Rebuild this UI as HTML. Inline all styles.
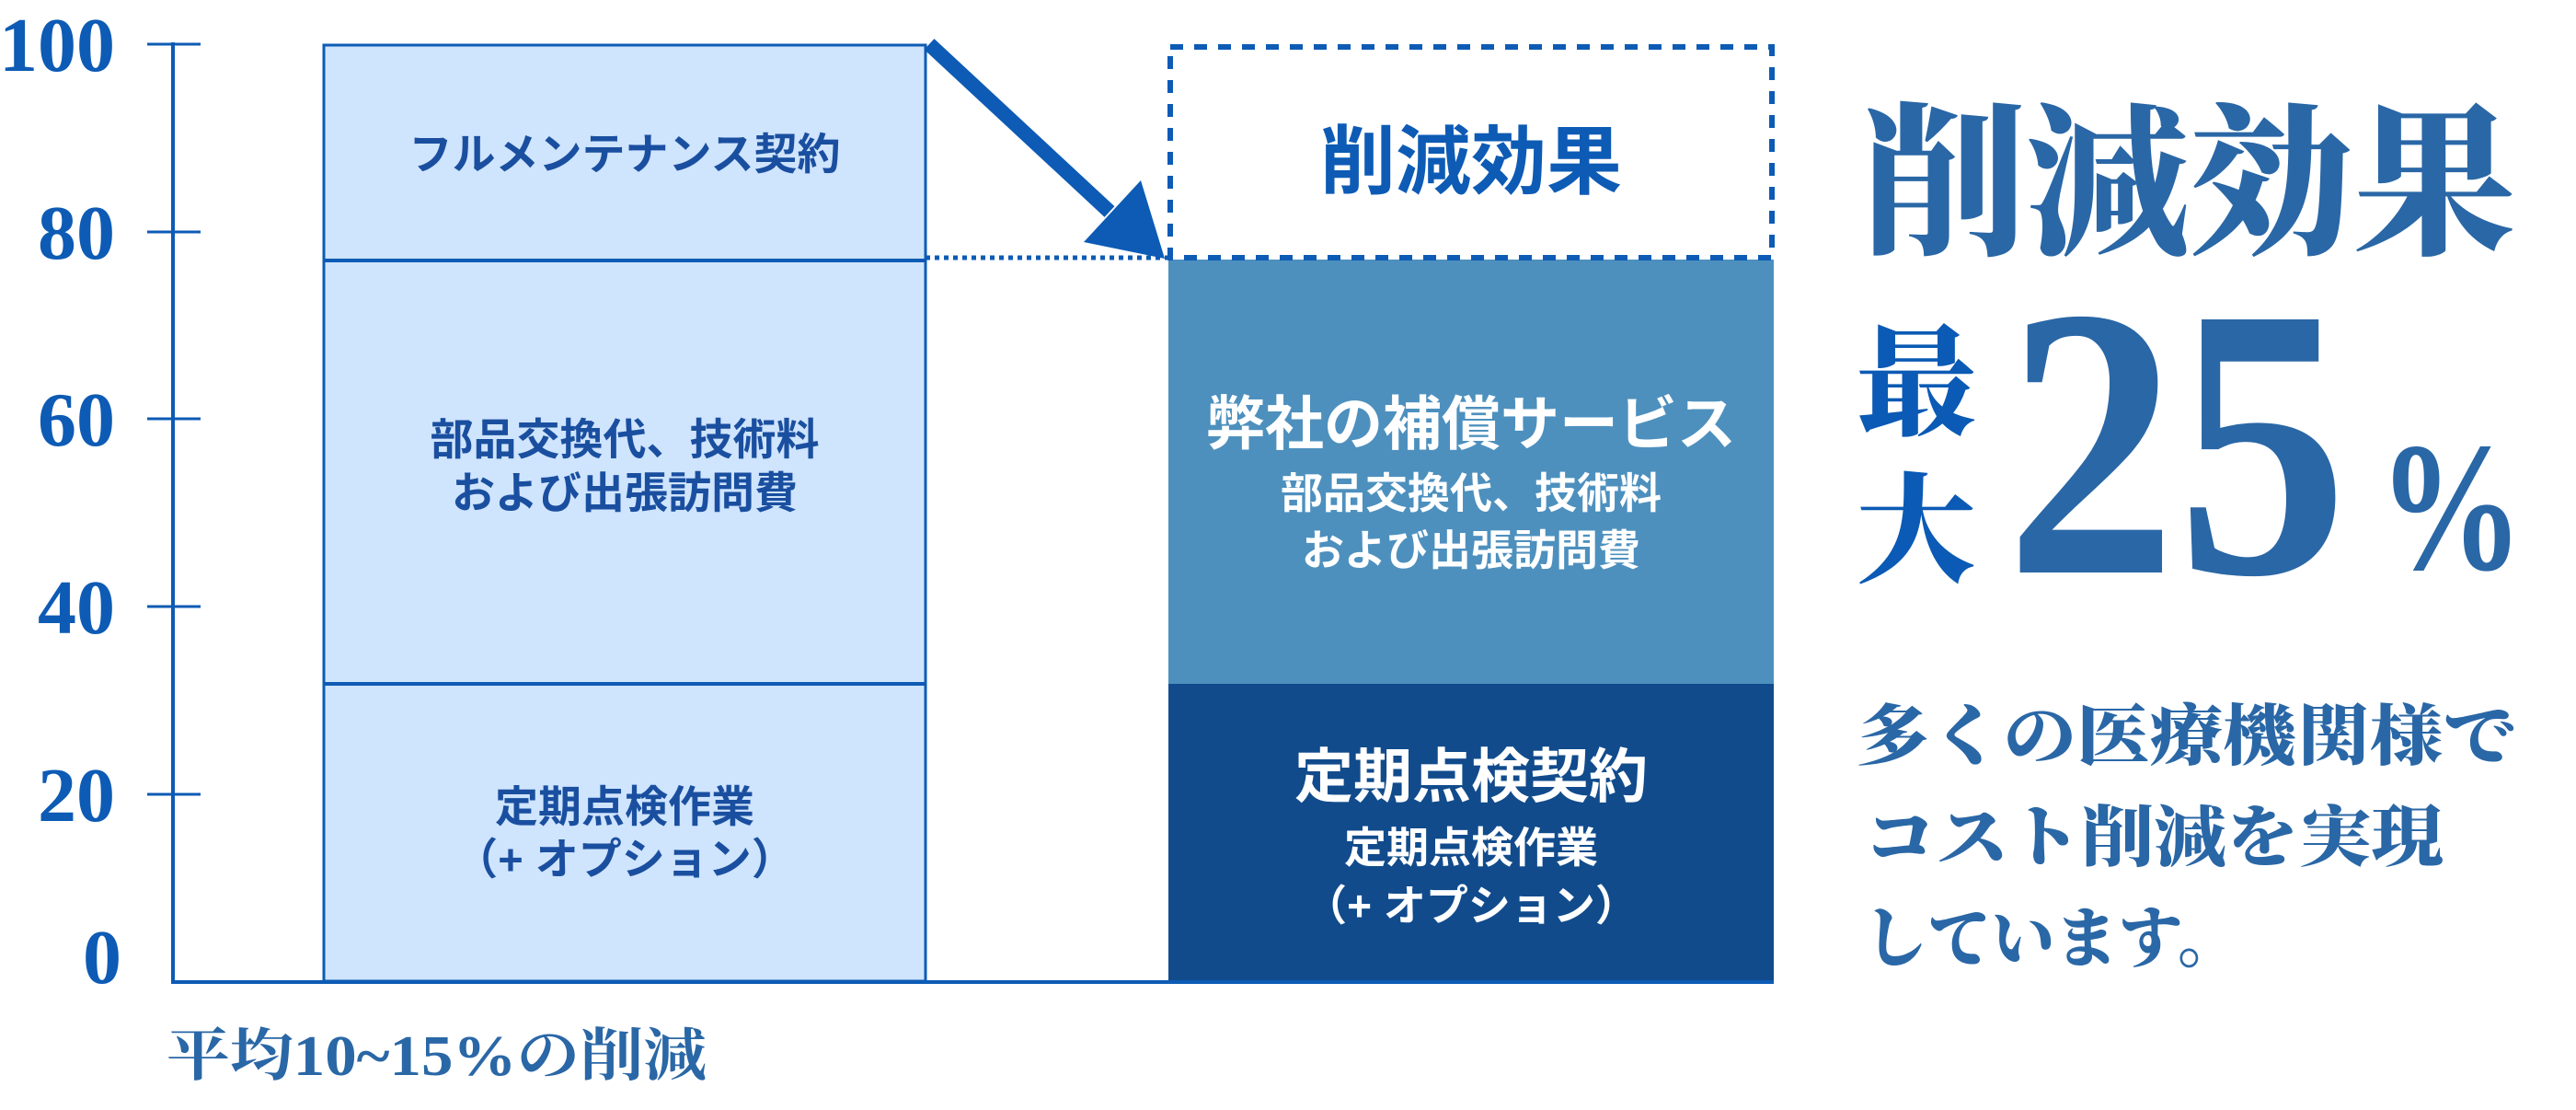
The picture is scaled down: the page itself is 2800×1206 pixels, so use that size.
<!DOCTYPE html>
<html><head><meta charset="utf-8"><style>
html,body{margin:0;padding:0;background:#fff;}
svg{display:block;}
.s{font-family:"Liberation Sans","Noto Sans CJK JP",sans-serif;font-weight:700;}
.n{font-family:"Liberation Serif","Noto Serif CJK SC",serif;font-weight:700;}
.c{font-family:"Liberation Serif","Noto Serif CJK SC",serif;font-weight:900;}
</style></head><body>
<svg width="2800" height="1206" viewBox="0 0 2800 1206" xmlns="http://www.w3.org/2000/svg">
<!-- left bar -->
<rect x="352" y="49" width="654" height="1017" fill="#cfe4fd" stroke="#0d5bb5" stroke-width="3"/>
<line x1="352" y1="283" x2="1006" y2="283" stroke="#0d5bb5" stroke-width="4"/>
<line x1="352" y1="743" x2="1006" y2="743" stroke="#0d5bb5" stroke-width="4"/>
<!-- right bar -->
<rect x="1270" y="282" width="658" height="461" fill="#4d90be"/>
<rect x="1270" y="743" width="658" height="325" fill="#114b8c"/>
<rect x="1272" y="51" width="654" height="229" fill="none" stroke="#0d5bb5" stroke-width="6" stroke-dasharray="14,12"/>
<line x1="1006" y1="280" x2="1270" y2="280" stroke="#0d5bb5" stroke-width="5" stroke-dasharray="5,5"/>
<!-- arrow -->
<line x1="1010" y1="48" x2="1206" y2="230" stroke="#0d5bb5" stroke-width="16"/>
<polygon points="1266,281 1240,196 1178,263" fill="#0d5bb5"/>
<!-- axis -->
<line x1="188" y1="46" x2="188" y2="1068" stroke="#0d5bb5" stroke-width="4"/>
<line x1="186" y1="1067" x2="1928" y2="1067" stroke="#0d5bb5" stroke-width="4"/>
<g stroke="#0d5bb5" stroke-width="3">
<line x1="160" y1="48" x2="218" y2="48"/>
<line x1="160" y1="252" x2="218" y2="252"/>
<line x1="160" y1="455" x2="218" y2="455"/>
<line x1="160" y1="659" x2="218" y2="659"/>
<line x1="160" y1="863" x2="218" y2="863"/>
</g>
<g class="n" fill="#0d5bb5" font-size="84" text-anchor="end">
<text x="125" y="77">100</text>
<text x="125" y="281">80</text>
<text x="125" y="484">60</text>
<text x="125" y="688">40</text>
<text x="125" y="892">20</text>
<text x="132" y="1068">0</text>
</g>
<text class="n" x="181" y="1168" font-size="62" fill="#2a67a6" textLength="587" lengthAdjust="spacingAndGlyphs">平均10~15%の削減</text>
<!-- left labels -->
<g class="s" fill="#1a4fa0" text-anchor="middle" font-size="47">
<text x="679" y="184">フルメンテナンス契約</text>
<text x="679" y="494">部品交換代、技術料</text>
<text x="679" y="552">および出張訪問費</text>
<text x="679" y="893">定期点検作業</text>
<text x="679" y="950">（+ オプション）</text>
</g>
<g class="s" text-anchor="middle">
<text x="1599" y="204" font-size="82" fill="#0d5bb5">削減効果</text>
<text x="1599" y="483" font-size="64" fill="#fff">弊社の補償サービス</text>
<text x="1599" y="552" font-size="46" fill="#fff">部品交換代、技術料</text>
<text x="1599" y="614" font-size="46" fill="#fff">および出張訪問費</text>
<text x="1599" y="866" font-size="64" fill="#fff">定期点検契約</text>
<text x="1599" y="937" font-size="46" fill="#fff">定期点検作業</text>
<text x="1599" y="1000" font-size="46" fill="#fff">（+ オプション）</text>
</g>
<!-- right side -->
<text class="c" x="2024" y="262" font-size="178" fill="#2a67a6" textLength="711" lengthAdjust="spacingAndGlyphs">削減効果</text>
<text class="c" x="2018" y="462" font-size="130" fill="#0b5ab5">最</text>
<text class="c" x="2018" y="622" font-size="130" fill="#0b5ab5">大</text>
<text class="n" x="2180" y="622" font-size="420" fill="#2a67a6" textLength="372" lengthAdjust="spacingAndGlyphs">25</text>
<text class="n" x="2585" y="618" font-size="200" fill="#2a67a6" textLength="158" lengthAdjust="spacingAndGlyphs" font-weight="400">%</text>
<g class="c" fill="#2a67a6" font-size="72">
<text x="2018" y="825" textLength="717" lengthAdjust="spacingAndGlyphs">多くの医療機関様で</text>
<text x="2026" y="935" textLength="630" lengthAdjust="spacingAndGlyphs">コスト削減を実現</text>
<text x="2026" y="1045" textLength="410" lengthAdjust="spacingAndGlyphs">しています。</text>
</g>
</svg>
</body></html>
